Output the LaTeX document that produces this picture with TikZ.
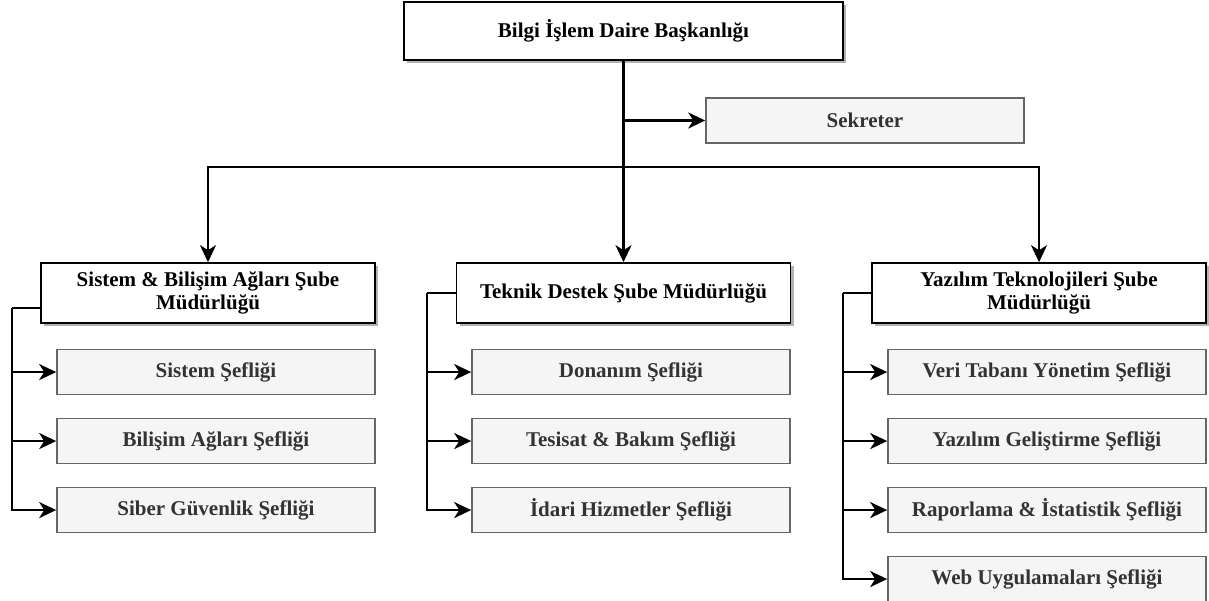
\documentclass[tikz,border=0pt]{standalone}
\usepackage{fontspec}
\setmainfont{Liberation Serif}
\usetikzlibrary{positioning,shadows,arrows.meta}
\definecolor{subfill}{HTML}{F5F5F5}
\definecolor{subline}{HTML}{666666}
\definecolor{subtext}{HTML}{333333}
\begin{document}
\begin{tikzpicture}[x=1pt,y=-1pt,
	box shadow/.style = {drop shadow={shadow xshift=3pt,shadow yshift=-3pt,fill=black!30,opacity=1}},
	head node/.style = {rectangle,draw=black,fill=white,line width=1.6pt,box shadow,
		minimum width=334pt,minimum height=60pt,inner sep=2pt,align=center,
		font=\fontsize{21}{23}\selectfont\bfseries},
	sub node/.style = {rectangle,draw=subline,fill=subfill,line width=1.5pt,text=subtext,
		minimum width=318pt,minimum height=45pt,inner sep=2pt,
		font=\fontsize{21}{23}\selectfont\bfseries},
	conn/.style = {line width=2.4pt,draw=black},
	tip/.style = {-{Stealth[length=17pt,width=16pt,inset=5pt]}}]

	\useasboundingbox (0,0) rectangle (1209,600);

	\node[head node,minimum width=439pt,minimum height=58pt] (top) at (623.5,31) {Bilgi İşlem Daire Başkanlığı};
	\node[sub node] (sek) at (865,120.5) {Sekreter};

	\node[head node] (m1) at (208,293) {Sistem \& Bilişim Ağları Şube\\Müdürlüğü};
	\node[head node] (m2) at (623.5,293) {Teknik Destek Şube Müdürlüğü};
	\node[head node] (m3) at (1039,293) {Yazılım Teknolojileri Şube\\Müdürlüğü};

	% sistem & bilisim
	\node[sub node,below=25pt of m1.south west,anchor=north west,xshift=16pt] (s11) {Sistem Şefliği};
	\node[sub node,below=22.5pt of s11] (s12) {Bilişim Ağları Şefliği};
	\node[sub node,below=22.5pt of s12] (s13) {Siber Güvenlik Şefliği};

	% teknik destek
	\node[sub node,below=25pt of m2.south west,anchor=north west,xshift=15.5pt] (s21) {Donanım Şefliği};
	\node[sub node,below=22.5pt of s21] (s22) {Tesisat \& Bakım Şefliği};
	\node[sub node,below=22.5pt of s22] (s23) {İdari Hizmetler Şefliği};

	% yazilim
	\node[sub node,below=25pt of m3.south west,anchor=north west,xshift=16pt] (s31) {Veri Tabanı Yönetim Şefliği};
	\node[sub node,below=22.5pt of s31] (s32) {Yazılım Geliştirme Şefliği};
	\node[sub node,below=22.5pt of s32] (s33) {Raporlama \& İstatistik Şefliği};
	\node[sub node,below=22.5pt of s33] (s34) {Web Uygulamaları Şefliği};

	\coordinate (bus) at (623.5,167);
	\coordinate (t1) at (12,308);
	\coordinate (t2) at (427,293);
	\coordinate (t3) at (843,293);

	\draw[conn,tip] (top.south) -- (m2.north);
	\draw[conn,tip] (top.south |- sek.west) -- (sek.west);
	\draw[conn,tip] (bus) -| (m1.north);
	\draw[conn,tip] (bus) -| (m3.north);

	\draw[conn] (m1.west |- t1) -- (t1);
	\draw[conn] (m2.west |- t2) -- (t2);
	\draw[conn] (m3.west |- t3) -- (t3);
	\foreach \s in {s11,s12,s13} \draw[conn,tip] (t1) |- (\s.west);
	\foreach \s in {s21,s22,s23} \draw[conn,tip] (t2) |- (\s.west);
	\foreach \s in {s31,s32,s33,s34} \draw[conn,tip] (t3) |- (\s.west);
\end{tikzpicture}
\end{document}
